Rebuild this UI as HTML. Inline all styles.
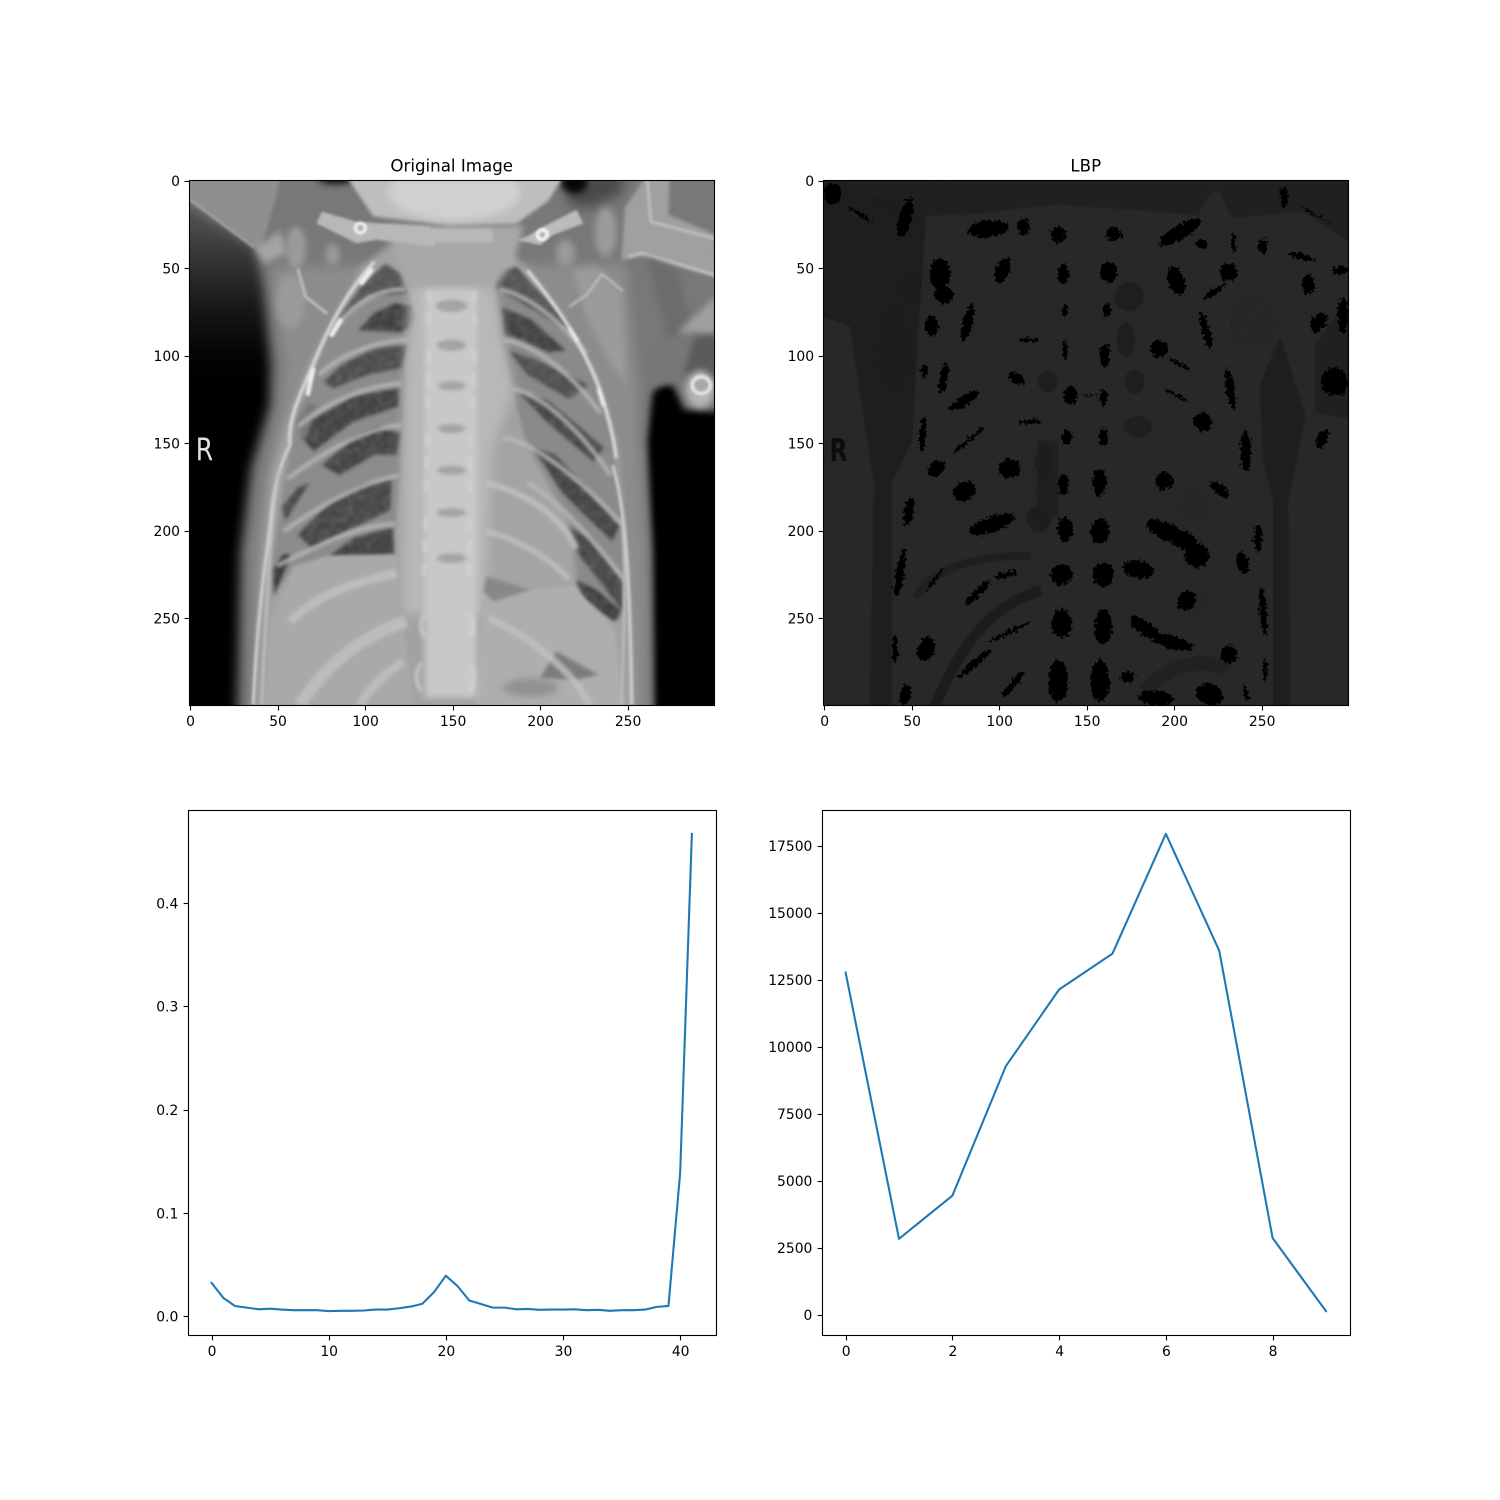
<!DOCTYPE html>
<html lang="en">
<head>
<meta charset="utf-8">
<title>Chest X-ray, LBP and histograms</title>
<style>
html,body{margin:0;padding:0;background:#fff}
svg{display:block}
text{font-family:"DejaVu Sans","Liberation Sans",sans-serif;fill:#000}
filter{color-interpolation-filters:sRGB}
</style>
</head>
<body>
<svg id="fig" xmlns="http://www.w3.org/2000/svg" width="1500" height="1500" viewBox="0 0 1500 1500">
<defs>
<filter id="b2" color-interpolation-filters="sRGB" filterUnits="userSpaceOnUse" x="-80" y="-80" width="1760" height="1760"><feGaussianBlur stdDeviation="3.5"/></filter>
<filter id="b4" color-interpolation-filters="sRGB" filterUnits="userSpaceOnUse" x="-80" y="-80" width="1760" height="1760"><feGaussianBlur stdDeviation="5.5"/></filter>
<filter id="b8" color-interpolation-filters="sRGB" filterUnits="userSpaceOnUse" x="-80" y="-80" width="1760" height="1760"><feGaussianBlur stdDeviation="10"/></filter>
<filter id="b14" color-interpolation-filters="sRGB" filterUnits="userSpaceOnUse" x="-80" y="-80" width="1760" height="1760"><feGaussianBlur stdDeviation="16"/></filter>
<filter id="lbpsoft" color-interpolation-filters="sRGB" filterUnits="userSpaceOnUse" x="-80" y="-80" width="1760" height="1760"><feGaussianBlur stdDeviation="2"/></filter>
<filter id="rough" color-interpolation-filters="sRGB" filterUnits="userSpaceOnUse" x="-80" y="-80" width="1760" height="1760">
<feTurbulence type="fractalNoise" baseFrequency="0.11" numOctaves="2" seed="4"/>
<feDisplacementMap in="SourceGraphic" scale="24" xChannelSelector="R" yChannelSelector="G"/>
</filter>
<filter id="speck" color-interpolation-filters="sRGB" filterUnits="userSpaceOnUse" x="-80" y="-80" width="1760" height="1760">
<feTurbulence type="fractalNoise" baseFrequency="0.32" numOctaves="1" seed="9" result="n"/>
<feColorMatrix in="n" type="matrix" values="0 0 0 0 0  0 0 0 0 0  0 0 0 0 0  9 0 0 0 -5.6" result="t"/>
<feComposite in="t" in2="SourceGraphic" operator="in"/>
</filter>
<filter id="mottle" color-interpolation-filters="sRGB" filterUnits="userSpaceOnUse" x="-80" y="-80" width="1760" height="1760">
<feTurbulence type="fractalNoise" baseFrequency="0.06" numOctaves="2" seed="2" result="n"/>
<feColorMatrix in="n" type="matrix" values="0 0 0 0 0.55  0 0 0 0 0.55  0 0 0 0 0.55  0.9 0 0 0 -0.33" result="t"/>
<feComposite in="t" in2="SourceGraphic" operator="in" result="m"/>
<feMerge result="all"><feMergeNode in="SourceGraphic"/><feMergeNode in="m"/></feMerge>
<feGaussianBlur in="all" stdDeviation="5"/>
</filter>
<linearGradient id="leftDark" x1="0" y1="0" x2="0" y2="1">
<stop offset="0" stop-color="#5a5a5a"/><stop offset="0.06" stop-color="#4a4a4a"/><stop offset="0.14" stop-color="#2f2f2f"/><stop offset="0.22" stop-color="#161616"/><stop offset="0.3" stop-color="#050505"/><stop offset="0.36" stop-color="#000"/><stop offset="1" stop-color="#000"/>
</linearGradient>
</defs>
<rect width="1500" height="1500" fill="#fff"/>

<svg x="189.2" y="180" width="525" height="525" viewBox="28 30 1509 1510" preserveAspectRatio="none">
<rect x="0" y="0" width="1600" height="1600" fill="#787878"/>
<g>
<polygon filter="url(#b14)" points="-20,70 215,225 240,330 262,560 258,680 205,860 175,1100 165,1600 -20,1600" fill="url(#leftDark)"/>
<polygon filter="url(#b8)" points="1600,700 1450,690 1410,600 1360,640 1345,780 1352,950 1360,1100 1365,1600 1600,1600" fill="#000"/>
<ellipse filter="url(#b8)" cx="450" cy="28" rx="50" ry="14" fill="#111"/>
<polygon filter="url(#b14)" points="1103,10 1280,10 1270,70 1180,110 1120,100" fill="#4a4a4a"/>
<ellipse filter="url(#b8)" cx="1135" cy="38" rx="38" ry="30" fill="#060606"/>
</g>
<polygon filter="url(#b14)" points="260,280 1285,270 1320,640 1320,780 1332,950 1340,1100 1345,1600 205,1600 212,1100 245,860 290,680 300,560" fill="#8c8c8c"/>
<g>
<polygon filter="url(#b4)" points="20,20 290,20 280,70 232,240 215,225 20,80" fill="#8f8f8f"/>
<path filter="url(#b2)" d="M28,85 L215,224" stroke="#b0b0b0" stroke-width="5" fill="none"/>
<polygon filter="url(#b8)" points="218,228 290,175 310,240 245,272" fill="#a4a4a4"/>
<ellipse filter="url(#b8)" cx="335" cy="225" rx="30" ry="62" fill="#9a9a9a"/>
<ellipse filter="url(#b8)" cx="440" cy="245" rx="20" ry="32" fill="#9a9a9a"/>
<ellipse filter="url(#b8)" cx="320" cy="380" rx="42" ry="80" fill="#9a9a9a"/>
<path filter="url(#b2)" d="M340,285 L362,365 L425,415" stroke="#c0c0c0" stroke-width="8" fill="none"/>
<ellipse filter="url(#b8)" cx="1225" cy="180" rx="32" ry="72" fill="#9a9a9a"/>
<ellipse filter="url(#b8)" cx="1110" cy="240" rx="28" ry="38" fill="#9a9a9a"/>
<polygon filter="url(#b8)" points="1130,290 1200,280 1270,350 1285,620 1240,560 1170,430" fill="#9b9b9b"/>
<path filter="url(#b2)" d="M1120,395 L1170,360 L1215,300 L1275,350" stroke="#bcbcbc" stroke-width="7" fill="none"/>
<polygon filter="url(#b4)" points="1340,20 1410,20 1405,130 1537,185 1545,310 1330,250 1270,260 1280,110" fill="#a0a0a0"/>
<path filter="url(#b2)" d="M1345,30 L1355,150 L1545,200 M1290,250 L1330,240 L1545,305" stroke="#bebebe" stroke-width="9" fill="none"/>
<polygon filter="url(#b8)" points="1340,250 1430,290 1470,440 1410,500" fill="#6c6c6c"/>
<polygon filter="url(#b8)" points="1430,470 1545,360 1545,490 1490,470" fill="#a0a0a0"/>
<polygon filter="url(#b8)" points="1370,510 1440,470 1470,560 1430,620 1370,620" fill="#777"/>
<polygon filter="url(#b8)" points="1480,480 1545,470 1545,600 1450,590" fill="#5a5a5a"/>
</g>
<polygon filter="url(#b8)" points="600,220 520,280 450,420 370,560 310,720 262,880 235,1150 215,1600 1310,1600 1290,1150 1260,800 1200,600 1110,430 1000,280 920,220" fill="#a2a2a2"/>
<g>
<polygon filter="url(#b4)" points="600,270 650,320 680,430 650,560 640,800 615,1105 430,1110 330,1140 270,1225 270,1100 300,900 340,700 390,570 450,430 530,330" fill="#8c8c8c"/>
<g filter="url(#mottle)">
<polygon points="590,272 640,300 655,355 540,365 470,425 455,432 520,340" fill="#525252"/>
<polygon points="670,392 682,440 640,468 515,462 560,412 620,385" fill="#3e3e3e"/>
<polygon points="655,505 640,570 540,590 440,630 415,610 470,560 560,515" fill="#4a4a4a"/>
<polygon points="630,630 630,680 500,725 385,810 350,770 380,720 500,650" fill="#404040"/>
<polygon points="635,760 625,820 560,820 460,880 410,850 500,770 570,740" fill="#424242"/>
<polygon points="610,890 605,980 480,1040 380,1090 340,1050 430,960 520,910" fill="#454545"/>
<polygon points="612,1030 618,1108 430,1112 500,1060" fill="#404040"/>
<polygon points="375,900 305,1010 295,970 340,915" fill="#484848"/>
<polygon points="320,1110 272,1225 270,1150 300,1105" fill="#363636"/>
<polygon points="345,710 370,670 400,680 360,780 335,730" fill="#787878"/>
</g>
</g>
<g>
<polygon filter="url(#b4)" points="900,290 960,280 1050,360 1130,470 1190,600 1240,760 1270,950 1290,1150 1265,1300 1180,1260 1140,1180 1120,1020 1000,800 960,640 920,480" fill="#8a8a8a"/>
<g filter="url(#mottle)">
<polygon points="910,290 970,280 1020,340 1090,410 1130,470 960,370 905,340" fill="#525252"/>
<polygon points="925,395 1010,430 1110,520 1060,525 960,480 935,480" fill="#404040"/>
<polygon points="945,520 1020,545 1175,620 1120,660 1000,590" fill="#4e4e4e"/>
<polygon points="975,640 1060,665 1220,800 1190,840 1060,730" fill="#464646"/>
<polygon points="1015,800 1080,820 1265,1020 1245,1070 1100,930" fill="#424242"/>
<polygon points="1110,1020 1180,1060 1270,1180 1275,1270 1150,1110" fill="#464646"/>
<polygon points="1140,1180 1200,1210 1270,1270 1250,1300 1160,1235" fill="#3c3c3c"/>
</g>
</g>
<g>
<polygon filter="url(#b14)" points="880,700 1000,800 1120,1020 1135,1190 1020,1210 870,1230" fill="#a4a4a4"/>
<polygon filter="url(#b14)" points="670,240 890,240 930,480 960,640 900,800 880,1280 640,1280 650,560" fill="#b8b8b8"/>
</g>
<g>
<polygon filter="url(#b4)" points="262,1300 330,1145 430,1112 622,1108 680,1600 240,1600" fill="#a9a9a9"/>
<polygon filter="url(#b4)" points="870,1240 1000,1210 1130,1195 1250,1320 1285,1600 850,1600" fill="#aeaeae"/>
<polygon filter="url(#b4)" points="873,1213 883,1170 1007,1209 902,1242" fill="#888"/>
<polygon filter="url(#b4)" points="1084,1386 1204,1453 1141,1467 1036,1463" fill="#7c7c7c"/>
<ellipse filter="url(#b8)" cx="1010" cy="1490" rx="80" ry="26" fill="#919191"/>
</g>
<g fill="none" stroke="#c2c2c2" filter="url(#b4)" opacity="0.8">
<path d="M624,1161 C461,1194 380,1240 318,1300" stroke-width="24"/>
<path d="M653,1300 C520,1340 420,1430 346,1539" stroke-width="34"/>
<path d="M643,1415 C590,1450 540,1500 519,1539" stroke-width="24"/>
<path d="M890,1290 C1000,1340 1130,1440 1180,1540" stroke-width="20"/>
<path d="M880,900 C1000,930 1100,1000 1140,1090" stroke-width="18"/>
<path d="M880,1040 C960,1060 1060,1110 1120,1180" stroke-width="16"/>
</g>
<g fill="none" stroke="#b8b8b8" stroke-width="12" filter="url(#b4)" opacity="0.9">
<path d="M650,345 C570,340 500,390 450,450"/>
<path d="M660,490 C570,490 470,530 400,590"/>
<path d="M640,615 C540,620 420,670 340,740"/>
<path d="M640,735 C540,740 400,820 310,890"/>
<path d="M630,880 C520,900 400,970 300,1040"/>
<path d="M620,1020 C520,1020 400,1080 280,1140"/>
<path d="M920,345 C1000,360 1090,430 1170,530"/>
<path d="M930,490 C1020,500 1130,590 1210,700"/>
<path d="M950,630 C1040,640 1160,760 1240,880"/>
<path d="M930,770 C1040,790 1180,920 1270,1020"/>
<path d="M1000,900 C1100,960 1200,1080 1280,1180"/>
</g>
<g fill="none" filter="url(#b2)">
<path d="M560,265 C500,330 440,420 385,560 C345,650 310,720 318,792" stroke="#d6d6d6" stroke-width="10"/>
<path d="M435,480 L465,430 M368,650 L385,570 M520,330 L555,285" stroke="#efefef" stroke-width="13"/>
<path d="M318,792 C280,860 265,960 260,1030 C245,1150 225,1270 212,1539" stroke="#d0d0d0" stroke-width="9"/>
<path d="M288,860 C262,1000 250,1260 236,1539" stroke="#c0c0c0" stroke-width="7"/>
<path d="M1000,290 C1090,400 1150,490 1200,610 C1225,680 1250,770 1255,830" stroke="#d8d8d8" stroke-width="10"/>
<path d="M1120,455 L1145,495 M1205,630 L1220,680" stroke="#ebebeb" stroke-width="12"/>
<path d="M1245,850 C1285,980 1295,1200 1300,1539" stroke="#d0d0d0" stroke-width="9"/>
<path d="M1270,1000 C1290,1200 1270,1400 1272,1539" stroke="#bdbdbd" stroke-width="7"/>
</g>
<g>
<rect filter="url(#b8)" x="705" y="250" width="150" height="1270" fill="#c8c8c8"/>
<g fill="#a4a4a4" filter="url(#b4)">
<ellipse cx="782" cy="278" rx="48" ry="18"/><ellipse cx="782" cy="392" rx="45" ry="18"/>
<ellipse cx="782" cy="505" rx="42" ry="16"/><ellipse cx="782" cy="622" rx="40" ry="13"/>
<ellipse cx="782" cy="745" rx="40" ry="13"/><ellipse cx="782" cy="865" rx="42" ry="13"/>
<ellipse cx="782" cy="987" rx="42" ry="13"/><ellipse cx="782" cy="1118" rx="42" ry="14"/>
</g>
<g fill="none" stroke="#d6d6d6" filter="url(#b4)" opacity="0.75">
<path d="M720,280 L716,480 M718,520 L712,720 M712,760 L708,960 M708,1000 L702,1200" stroke-width="10" stroke-dasharray="36 30"/>
<path d="M845,280 L848,480 M848,520 L840,720 M838,760 L836,960 M836,1000 L832,1200" stroke-width="10" stroke-dasharray="36 30"/>
<path d="M704,1280 C690,1300 690,1325 706,1345 M832,1280 C848,1300 848,1325 832,1345" stroke-width="10"/>
<path d="M695,1420 C677,1440 677,1480 695,1500 M835,1420 C852,1440 852,1480 835,1500" stroke-width="10"/>
</g>
</g>
<g>
<polygon filter="url(#b8)" points="590,160 990,160 960,270 900,340 650,340" fill="#a8a8a8"/>
<polygon filter="url(#b4)" points="480,20 1103,20 1060,90 969,155 777,160 557,135" fill="#bebebe"/>
<ellipse filter="url(#b8)" cx="790" cy="65" rx="190" ry="80" fill="#d0d0d0"/>
</g>
<g filter="url(#b2)">
<polygon points="394,155 409,121 509,150 720,164 735,222 567,202 509,212" fill="#b8b8b8"/>
<polygon points="998,193 1046,164 1141,116 1161,155 1074,188 1036,217 969,202" fill="#bcbcbc"/>
<rect x="700" y="170" width="200" height="40" fill="#b8b8b8"/>
<circle cx="520" cy="168" r="14" fill="#b0b0b0" stroke="#f8f8f8" stroke-width="9"/>
<circle cx="1043" cy="187" r="14" fill="#b0b0b0" stroke="#fbfbfb" stroke-width="10"/>
</g>
<g>
<ellipse filter="url(#b8)" cx="1497" cy="632" rx="42" ry="55" fill="#b4b4b4"/>
<ellipse filter="url(#b2)" cx="1500" cy="620" rx="26" ry="24" fill="#a8a8a8" stroke="#e8e8e8" stroke-width="10"/>
</g>
<text x="47" y="836" font-size="90" textLength="50" lengthAdjust="spacingAndGlyphs" style="fill:#e2e2e2">R</text>
</svg>

<svg x="823.3" y="180" width="525" height="525" viewBox="24 30 1511 1510" preserveAspectRatio="none">
<rect x="0" y="0" width="1600" height="1600" fill="#282828"/>
<g fill="#1e1e1e" filter="url(#lbpsoft)">
<polygon points="0,0 300,0 320,130 295,500 280,780 222,900 222,1560 158,1560 170,900 100,450 0,415"/>
<polygon points="0,0 1560,0 1560,50 1150,60 1100,130 700,100 420,130 300,130" fill="#202020"/>
<polygon points="1150,30 1560,30 1560,220 1400,120 1200,140" fill="#202020"/>
<polygon points="1320,1560 1368,1560 1362,950 1412,710 1340,480 1280,620 1290,840 1320,950"/>
<polygon points="1560,340 1440,500 1440,700 1560,720" fill="#202020"/>
<polygon points="640,780 700,780 700,1000 640,1000" fill="#202020"/>
<ellipse cx="905" cy="365" rx="42" ry="42"/><ellipse cx="895" cy="490" rx="26" ry="50"/>
<ellipse cx="670" cy="610" rx="28" ry="30"/><ellipse cx="645" cy="1005" rx="35" ry="38"/>
<ellipse cx="660" cy="840" rx="25" ry="50"/><ellipse cx="920" cy="610" rx="28" ry="35"/>
<ellipse cx="930" cy="740" rx="40" ry="30" fill="#202020"/>
<path d="M340,1560 C420,1350 520,1250 650,1210" fill="none" stroke="#1c1c1c" stroke-width="30"/>
<path d="M290,1230 C350,1130 500,1110 620,1110" fill="none" stroke="#1f1f1f" stroke-width="22"/>
<path d="M950,1500 C1020,1420 1130,1400 1180,1440" fill="none" stroke="#212121" stroke-width="40"/>
</g>
<g fill="#000" filter="url(#speck)" opacity="0.6">
<ellipse cx="230" cy="520" rx="50" ry="130"/>
<ellipse cx="1260" cy="440" rx="70" ry="80"/>
<ellipse cx="350" cy="90" rx="180" ry="50"/>
<ellipse cx="300" cy="340" rx="70" ry="50"/>
<ellipse cx="650" cy="900" rx="40" ry="120"/>
<ellipse cx="930" cy="740" rx="50" ry="40"/>
<ellipse cx="1090" cy="970" rx="50" ry="50"/>
<ellipse cx="1100" cy="1240" rx="50" ry="40"/>
</g>
<g fill="#000" filter="url(#rough)">
<ellipse cx="50" cy="70" rx="28" ry="30"/>
<ellipse cx="260" cy="140" rx="18" ry="60" transform="rotate(15 260 140)"/>
<ellipse cx="500" cy="170" rx="60" ry="24" transform="rotate(-5 500 170)"/>
<ellipse cx="600" cy="165" rx="18" ry="22"/>
<ellipse cx="700" cy="188" rx="22" ry="22"/>
<ellipse cx="860" cy="185" rx="22" ry="18"/>
<ellipse cx="1050" cy="180" rx="70" ry="20" transform="rotate(-30 1050 180)"/>
<ellipse cx="1115" cy="215" rx="18" ry="14"/>
<ellipse cx="1205" cy="210" rx="6" ry="30"/>
<ellipse cx="1290" cy="220" rx="14" ry="20"/>
<ellipse cx="1400" cy="250" rx="40" ry="8" transform="rotate(15 1400 250)"/>
<ellipse cx="1350" cy="80" rx="10" ry="30"/>
<ellipse cx="130" cy="130" rx="40" ry="4" transform="rotate(35 130 130)"/>
<ellipse cx="1440" cy="130" rx="50" ry="3" transform="rotate(30 1440 130)"/>
<ellipse cx="1510" cy="290" rx="25" ry="10"/>
<ellipse cx="1520" cy="420" rx="15" ry="50"/>
<ellipse cx="540" cy="290" rx="20" ry="38" transform="rotate(20 540 290)"/>
<ellipse cx="715" cy="300" rx="15" ry="30"/>
<ellipse cx="845" cy="295" rx="25" ry="30"/>
<ellipse cx="360" cy="300" rx="30" ry="45"/>
<ellipse cx="370" cy="360" rx="28" ry="25"/>
<ellipse cx="1040" cy="320" rx="22" ry="45" transform="rotate(-20 1040 320)"/>
<ellipse cx="1190" cy="295" rx="25" ry="25"/>
<ellipse cx="1150" cy="350" rx="40" ry="8" transform="rotate(-35 1150 350)"/>
<ellipse cx="1420" cy="330" rx="18" ry="30"/>
<ellipse cx="720" cy="405" rx="8" ry="18"/>
<ellipse cx="840" cy="405" rx="10" ry="22"/>
<ellipse cx="440" cy="440" rx="14" ry="55" transform="rotate(15 440 440)"/>
<ellipse cx="335" cy="450" rx="20" ry="30"/>
<ellipse cx="1125" cy="465" rx="12" ry="55" transform="rotate(-15 1125 465)"/>
<ellipse cx="615" cy="490" rx="30" ry="6"/>
<ellipse cx="1450" cy="440" rx="20" ry="30" transform="rotate(30 1450 440)"/>
<ellipse cx="1495" cy="610" rx="40" ry="40"/>
<ellipse cx="720" cy="520" rx="8" ry="25"/>
<ellipse cx="835" cy="535" rx="14" ry="35"/>
<ellipse cx="990" cy="515" rx="25" ry="25" transform="rotate(30 990 515)"/>
<ellipse cx="370" cy="600" rx="12" ry="45" transform="rotate(10 370 600)"/>
<ellipse cx="315" cy="580" rx="8" ry="22"/>
<ellipse cx="1050" cy="560" rx="35" ry="4" transform="rotate(30 1050 560)"/>
<ellipse cx="580" cy="600" rx="25" ry="16" transform="rotate(30 580 600)"/>
<ellipse cx="1195" cy="630" rx="12" ry="60" transform="rotate(-10 1195 630)"/>
<ellipse cx="735" cy="650" rx="20" ry="26"/>
<ellipse cx="830" cy="655" rx="12" ry="22"/>
<ellipse cx="790" cy="650" rx="25" ry="2"/>
<ellipse cx="430" cy="665" rx="50" ry="14" transform="rotate(-30 430 665)"/>
<ellipse cx="1040" cy="650" rx="40" ry="4" transform="rotate(30 1040 650)"/>
<ellipse cx="1115" cy="725" rx="28" ry="25" transform="rotate(35 1115 725)"/>
<ellipse cx="620" cy="725" rx="35" ry="6"/>
<ellipse cx="310" cy="760" rx="10" ry="50" transform="rotate(5 310 760)"/>
<ellipse cx="725" cy="770" rx="14" ry="22"/>
<ellipse cx="830" cy="770" rx="12" ry="25"/>
<ellipse cx="440" cy="780" rx="60" ry="6" transform="rotate(-40 440 780)"/>
<ellipse cx="1240" cy="810" rx="15" ry="60"/>
<ellipse cx="560" cy="860" rx="30" ry="28"/>
<ellipse cx="818" cy="900" rx="20" ry="38"/>
<ellipse cx="715" cy="905" rx="15" ry="30"/>
<ellipse cx="1005" cy="895" rx="25" ry="25"/>
<ellipse cx="430" cy="925" rx="35" ry="26" transform="rotate(-30 430 925)"/>
<ellipse cx="350" cy="860" rx="30" ry="20" transform="rotate(-40 350 860)"/>
<ellipse cx="1165" cy="920" rx="35" ry="14" transform="rotate(40 1165 920)"/>
<ellipse cx="1460" cy="775" rx="15" ry="28" transform="rotate(25 1460 775)"/>
<ellipse cx="270" cy="985" rx="14" ry="40" transform="rotate(10 270 985)"/>
<ellipse cx="510" cy="1020" rx="70" ry="22" transform="rotate(-20 510 1020)"/>
<ellipse cx="720" cy="1035" rx="22" ry="35"/>
<ellipse cx="820" cy="1040" rx="26" ry="38"/>
<ellipse cx="1010" cy="1040" rx="60" ry="25" transform="rotate(25 1010 1040)"/>
<ellipse cx="1060" cy="1065" rx="40" ry="25" transform="rotate(20 1060 1065)"/>
<ellipse cx="1100" cy="1110" rx="35" ry="35" transform="rotate(35 1100 1110)"/>
<ellipse cx="1275" cy="1060" rx="12" ry="40"/>
<ellipse cx="930" cy="1150" rx="45" ry="25" transform="rotate(10 930 1150)"/>
<ellipse cx="710" cy="1165" rx="30" ry="30"/>
<ellipse cx="830" cy="1165" rx="30" ry="35"/>
<ellipse cx="245" cy="1160" rx="12" ry="70" transform="rotate(10 245 1160)"/>
<ellipse cx="1230" cy="1130" rx="18" ry="30" transform="rotate(-20 1230 1130)"/>
<ellipse cx="345" cy="1180" rx="5" ry="40" transform="rotate(35 345 1180)"/>
<ellipse cx="550" cy="1165" rx="35" ry="8" transform="rotate(-15 550 1165)"/>
<ellipse cx="470" cy="1215" rx="50" ry="10" transform="rotate(-45 470 1215)"/>
<ellipse cx="1070" cy="1240" rx="25" ry="30" transform="rotate(35 1070 1240)"/>
<ellipse cx="710" cy="1305" rx="30" ry="40"/>
<ellipse cx="830" cy="1315" rx="25" ry="50"/>
<ellipse cx="1290" cy="1270" rx="10" ry="70" transform="rotate(-5 1290 1270)"/>
<ellipse cx="950" cy="1320" rx="50" ry="20" transform="rotate(35 950 1320)"/>
<ellipse cx="1030" cy="1360" rx="60" ry="20" transform="rotate(15 1030 1360)"/>
<ellipse cx="320" cy="1380" rx="25" ry="35" transform="rotate(20 320 1380)"/>
<ellipse cx="560" cy="1330" rx="70" ry="6" transform="rotate(-25 560 1330)"/>
<ellipse cx="1190" cy="1395" rx="25" ry="25" transform="rotate(40 1190 1395)"/>
<ellipse cx="460" cy="1420" rx="60" ry="10" transform="rotate(-40 460 1420)"/>
<ellipse cx="230" cy="1375" rx="8" ry="40"/>
<ellipse cx="700" cy="1470" rx="28" ry="60"/>
<ellipse cx="820" cy="1470" rx="28" ry="60"/>
<ellipse cx="570" cy="1480" rx="45" ry="10" transform="rotate(-50 570 1480)"/>
<ellipse cx="980" cy="1520" rx="50" ry="22" transform="rotate(5 980 1520)"/>
<ellipse cx="1135" cy="1510" rx="40" ry="30" transform="rotate(20 1135 1510)"/>
<ellipse cx="260" cy="1510" rx="15" ry="30" transform="rotate(10 260 1510)"/>
<ellipse cx="900" cy="1460" rx="20" ry="15"/>
<ellipse cx="1240" cy="1505" rx="6" ry="25" transform="rotate(-15 1240 1505)"/>
<ellipse cx="1295" cy="1440" rx="5" ry="35"/>
</g>
<text x="42" y="838" font-size="90" font-weight="bold" textLength="52" lengthAdjust="spacingAndGlyphs" style="fill:#0c0c0c">R</text>
</svg>

<g id="chart-layer"></g>
</svg>

<script>
const imageTicks = [0, 50, 100, 150, 200, 250];
const imageSize = [300, 300];
const imageTitles = ['Original Image', 'LBP'];

const histTicksX = [0, 10, 20, 30, 40];
const histTicksY = [0, 0.1, 0.2, 0.3, 0.4];
const histTickLabelsY = ['0.0', '0.1', '0.2', '0.3', '0.4'];
const histValues = [0.0325, 0.018, 0.0101, 0.0085, 0.0069, 0.0075, 0.0066, 0.006, 0.006, 0.006,
  0.0051, 0.0054, 0.0054, 0.0057, 0.0066, 0.0066, 0.0079, 0.0095, 0.0123, 0.0236,
  0.0394, 0.0293, 0.0154, 0.012, 0.0085, 0.0085, 0.0069, 0.0072, 0.0064, 0.0066,
  0.0066, 0.0069, 0.006, 0.0064, 0.0054, 0.006, 0.006, 0.0066, 0.0092, 0.0101,
  0.139, 0.467];

const lbpTicksX = [0, 2, 4, 6, 8];
const lbpTicksY = [0, 2500, 5000, 7500, 10000, 12500, 15000, 17500];
const lbpValues = [12770, 2830, 4440, 9270, 12140, 13480, 17950, 13590, 2860, 130];

const layer = document.getElementById('chart-layer');
const NS = 'http://www.w3.org/2000/svg';

function make(tag, name, attrs, parent) {
  const el = document.createElementNS(NS, tag);
  
  
  for (const k in attrs) el.setAttribute(k, attrs[k]);
  parent.appendChild(el);
  return el;
}

function snap(v) {
  return Math.round(v) + 0.5;
}

function drawFrame(name, box, g) {
  const l = snap(box.x), r = snap(box.x + box.w), t = snap(box.y), b = snap(box.y + box.h);
  make('rect', name + '-frame', {
    x: l, y: t, width: r - l, height: b - t,
    fill: 'none', stroke: '#000', 'stroke-width': 1.1
  }, g);
}

function xTick(name, px, label, box, g) {
  const sx = snap(px);
  const bottom = snap(box.y + box.h);
  make('line', name + '-x-tick', {
    x1: sx, x2: sx, y1: bottom, y2: bottom + 4.9, stroke: '#000', 'stroke-width': 1.1
  }, g);
  const t = make('text', name + '-x-tick-label', {
    x: px + 0.5, y: box.y + box.h + 21, 'font-size': 13.9, 'text-anchor': 'middle'
  }, g);
  t.textContent = label;
}

function yTick(name, py, label, box, g) {
  const sy = snap(py);
  const left = snap(box.x);
  make('line', name + '-y-tick', {
    x1: left - 4.9, x2: left, y1: sy, y2: sy, stroke: '#000', 'stroke-width': 1.1
  }, g);
  const t = make('text', name + '-y-tick-label', {
    x: box.x - 9.2, y: py + 5.3, 'font-size': 13.9, 'text-anchor': 'end'
  }, g);
  t.textContent = label;
}

function drawImageAxes(name, title, box) {
  const g = make('g', name + '-axes', {}, layer);
  drawFrame(name, box, g);
  const sx = d => box.x + (d + 0.5) * box.w / imageSize[0];
  const sy = d => box.y + (d + 0.5) * box.h / imageSize[1];
  imageTicks.forEach(v => {
    xTick(name, sx(v), String(v), box, g);
    yTick(name, sy(v), String(v), box, g);
  });
  const t = make('text', name + '-title', {
    x: box.x + box.w / 2, y: box.y - 8.3, 'font-size': 16.67, 'text-anchor': 'middle'
  }, g);
  t.textContent = title;
}

function drawLineChart(name, box, values, ticksX, ticksY, labelsY) {
  const g = make('g', name + '-axes', {}, layer);
  const xMin = 0, xMax = values.length - 1;
  const xPad = (xMax - xMin) * 0.05;
  const yLo = Math.min.apply(null, values), yHi = Math.max.apply(null, values);
  const yPad = (yHi - yLo) * 0.05;
  const sx = d => box.x + (d - (xMin - xPad)) / (xMax - xMin + 2 * xPad) * box.w;
  const sy = d => box.y + box.h - (d - (yLo - yPad)) / (yHi - yLo + 2 * yPad) * box.h;
  const pts = values.map((v, i) => sx(i).toFixed(2) + ',' + sy(v).toFixed(2)).join(' ');
  make('polyline', name + '-line', {
    points: pts, fill: 'none', stroke: '#1f77b4', 'stroke-width': 2.08,
    'stroke-linejoin': 'round', 'stroke-linecap': 'square'
  }, g);
  drawFrame(name, box, g);
  ticksX.forEach(v => xTick(name, sx(v), String(v), box, g));
  ticksY.forEach((v, i) => yTick(name, sy(v), labelsY[i], box, g));
}

drawImageAxes('original-image', imageTitles[0], {x: 189.2, y: 180, w: 525, h: 525});
drawImageAxes('lbp', imageTitles[1], {x: 823.3, y: 180, w: 525, h: 525});
drawLineChart('intensity-histogram', {x: 187.5, y: 810, w: 528.4, h: 525}, histValues, histTicksX, histTicksY, histTickLabelsY);
drawLineChart('lbp-histogram', {x: 821.6, y: 810, w: 528.4, h: 525}, lbpValues, lbpTicksX, lbpTicksY, lbpTicksY.map(String));
</script>
</body>
</html>
